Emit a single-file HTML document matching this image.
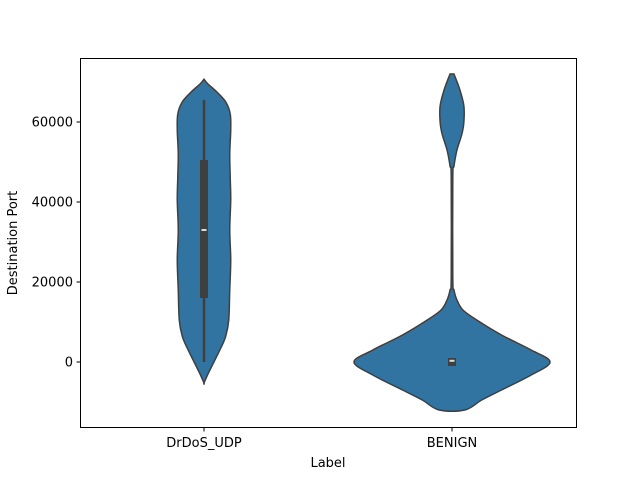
<!DOCTYPE html>
<html><head><meta charset="utf-8"><style>body{margin:0;background:#fff}svg{display:block;font-family:"DejaVu Sans","Liberation Sans",sans-serif}</style></head>
<body>
<svg id="chart" width="640" height="480">
<rect x="0" y="0" width="640" height="480" fill="#fff"/>
<g id="plot"></g>
<rect x="80.5" y="58.5" width="496" height="369" fill="none" stroke="#000" stroke-width="1"/>
<g id="axes"></g>
<text x="328" y="467" text-anchor="middle" font-size="13">Label</text>
<text x="17" y="243" text-anchor="middle" font-size="13" transform="rotate(-90 17 243)">Destination Port</text>
</svg>
<script>
const categories = ["DrDoS_UDP", "BENIGN"];
const yTicks = [0, 20000, 40000, 60000];
// density profiles: [value, relative density]
const densUDP = [[70700,0],[69500,0.04],[67500,0.13],[65000,0.22],[62000,0.265],[58000,0.27],[52000,0.26],[46000,0.265],[40500,0.27],[33000,0.26],[25500,0.27],[18000,0.26],[10500,0.25],[6500,0.22],[3500,0.17],[0,0.10],[-3000,0.04],[-5250,0]];
const densBenign = [[72000,0.02],[68000,0.08],[64000,0.12],[60000,0.12],[57000,0.10],[53000,0.05],[49000,0.02],[46000,0.008],[21000,0.008],[18000,0.02],[15500,0.05],[13000,0.11],[10500,0.25],[6750,0.50],[3000,0.80],[0,0.99],[-3250,0.80],[-7000,0.50],[-9500,0.30],[-12000,0.13]];
const boxUDP = {min:0, q1:16000, med:33000, q3:50500, max:65535};
const boxBenign = {min:-1000, q1:-1000, med:300, q3:1000, max:1000};

const y = v => 362 - v*0.004;
const xc = i => 204 + i*248;
const W = 99;
const NS="http://www.w3.org/2000/svg";
const plot=document.getElementById('plot'), axes=document.getElementById('axes');
function mk(t,a,p){const e=document.createElementNS(NS,t);for(const k in a)e.setAttribute(k,a[k]);(p||plot).appendChild(e);return e;}

[densUDP,densBenign].forEach((d,i)=>{
  const c=xc(i);
  const right=d.map(p=>[c+p[1]*W,y(p[0])]);
  const left=d.slice().reverse().map(p=>[c-p[1]*W,y(p[0])]);
  const pts=right.concat(left);
  let s=`M${pts[0][0]},${pts[0][1]}`;
  for(let k=0;k<pts.length-1;k++){
    const p0=pts[Math.max(k-1,0)],p1=pts[k],p2=pts[k+1],p3=pts[Math.min(k+2,pts.length-1)];
    s+=` C${p1[0]+(p2[0]-p0[0])/6},${p1[1]+(p2[1]-p0[1])/6} ${p2[0]-(p3[0]-p1[0])/6},${p2[1]-(p3[1]-p1[1])/6} ${p2[0]},${p2[1]}`;
  }
  s+='Z';
  const v=mk('path',{d:s,fill:'#3274a1',stroke:'#3f3f3f','stroke-width':1.5});
  
  
});
[boxUDP,boxBenign].forEach((b,i)=>{
  const c=xc(i);
  const wl=mk('line',{x1:c,x2:c,y1:y(b.max),y2:y(b.min),stroke:'#3f3f3f','stroke-width':2.5});
  
  
  const r=mk('rect',{x:c-4,width:8,y:y(b.q3),height:Math.max(y(b.q1)-y(b.q3),6),fill:'#3f3f3f'});
  
  
  const m=mk('line',{x1:c-2.5,x2:c+2.5,y1:y(b.med),y2:y(b.med),stroke:'#ddd','stroke-width':2});
  
  
});
yTicks.forEach(t=>{
  const l=mk('line',{x1:76.5,x2:80.5,y1:y(t),y2:y(t),stroke:'#000'},axes);
  
  
  const tx=mk('text',{x:73,y:y(t)+4.5,'text-anchor':'end','font-size':13},axes);
  tx.textContent=t;
  
  
});
categories.forEach((c,i)=>{
  const l=mk('line',{x1:xc(i),x2:xc(i),y1:427.5,y2:431.5,stroke:'#000'},axes);
  
  
  const tx=mk('text',{x:xc(i),y:447,'text-anchor':'middle','font-size':13},axes);
  tx.textContent=c;
  
  
});
</script>
</body></html>
